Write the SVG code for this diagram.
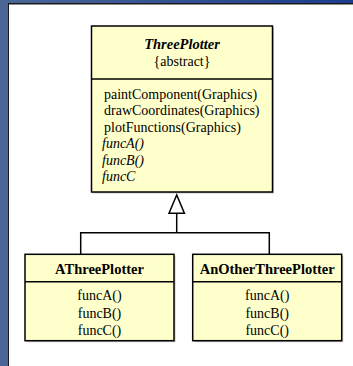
<svg xmlns="http://www.w3.org/2000/svg" width="353" height="366" viewBox="0 0 353 366">
  <defs>
    <linearGradient id="frameGrad" x1="0" y1="0" x2="1" y2="0">
      <stop offset="0" stop-color="#4b6797"/>
      <stop offset="1" stop-color="#1c3c8e"/>
    </linearGradient>
    <style>
      .box { fill: #ffffcc; stroke: #000; stroke-width: 1.5; }
      .shadow { fill: #8a8a8a; opacity: 0.5; }
      .div { stroke: #000; stroke-width: 1.5; }
      .c { text-anchor: middle; }
      .edge { fill: none; stroke: #000; stroke-width: 1.5; }
      .head { fill: #fff; stroke: #000; stroke-width: 1.5; }
    </style>
  </defs>

  <!-- window frame -->
  <rect x="0" y="0" width="353" height="366" fill="url(#frameGrad)"/>
  <rect x="8" y="3" width="345" height="363" fill="#1a1a1a"/>
  <rect x="9" y="4.5" width="344" height="361.5" fill="#fff"/>

  <!-- generalization connectors -->
  <g id="connectors">
    <polyline class="edge" points="80.7,254.3 80.7,232.7 269.3,232.7 269.3,254.3"/>
    <line class="edge" x1="176.7" y1="213.3" x2="176.7" y2="232.7"/>
    <polygon class="head" points="176.7,195 169,213.3 184.4,213.3"/>
  </g>

  <!-- abstract base class -->
  <g id="ThreePlotter" font-family="'Liberation Serif', 'Times New Roman', serif" font-size="14">
    <rect class="shadow" x="93" y="27.5" width="181" height="166"/>
    <rect class="box" x="91.5" y="26" width="181" height="166"/>
    <line class="div" x1="91.5" y1="79" x2="272.5" y2="79"/>
    <text class="c" x="182" y="49" font-weight="bold" font-style="italic" font-size="14.5">ThreePlotter</text>
    <text class="c" x="182" y="66">{abstract}</text>
    <text x="104" y="98.5">paintComponent(Graphics)</text>
    <text x="104" y="115">drawCoordinates(Graphics)</text>
    <text x="104" y="131.5">plotFunctions(Graphics)</text>
    <text x="102" y="148" font-style="italic">funcA()</text>
    <text x="102" y="164.5" font-style="italic">funcB()</text>
    <text x="102" y="181" font-style="italic">funcC</text>
  </g>

  <!-- concrete subclass A -->
  <g id="AThreePlotter" font-family="'Liberation Serif', 'Times New Roman', serif" font-size="14">
    <rect class="shadow" x="26.5" y="255.8" width="149" height="86.4"/>
    <rect class="box" x="25" y="254.3" width="149" height="86.4"/>
    <line class="div" x1="25" y1="281.7" x2="174" y2="281.7"/>
    <text class="c" x="99.5" y="273.5" font-weight="bold" font-size="14.5">AThreePlotter</text>
    <text class="c" x="99.5" y="300">funcA()</text>
    <text class="c" x="99.5" y="317.5">funcB()</text>
    <text class="c" x="99.5" y="335">funcC()</text>
  </g>

  <!-- concrete subclass B -->
  <g id="AnOtherThreePlotter" font-family="'Liberation Serif', 'Times New Roman', serif" font-size="14">
    <rect class="shadow" x="194.2" y="255.8" width="149" height="86.4"/>
    <rect class="box" x="192.7" y="254.3" width="149" height="86.4"/>
    <line class="div" x1="192.7" y1="281.7" x2="341.7" y2="281.7"/>
    <text class="c" x="267.2" y="273.5" font-weight="bold" font-size="14.5">AnOtherThreePlotter</text>
    <text class="c" x="267.2" y="300">funcA()</text>
    <text class="c" x="267.2" y="317.5">funcB()</text>
    <text class="c" x="267.2" y="335">funcC()</text>
  </g>
</svg>
